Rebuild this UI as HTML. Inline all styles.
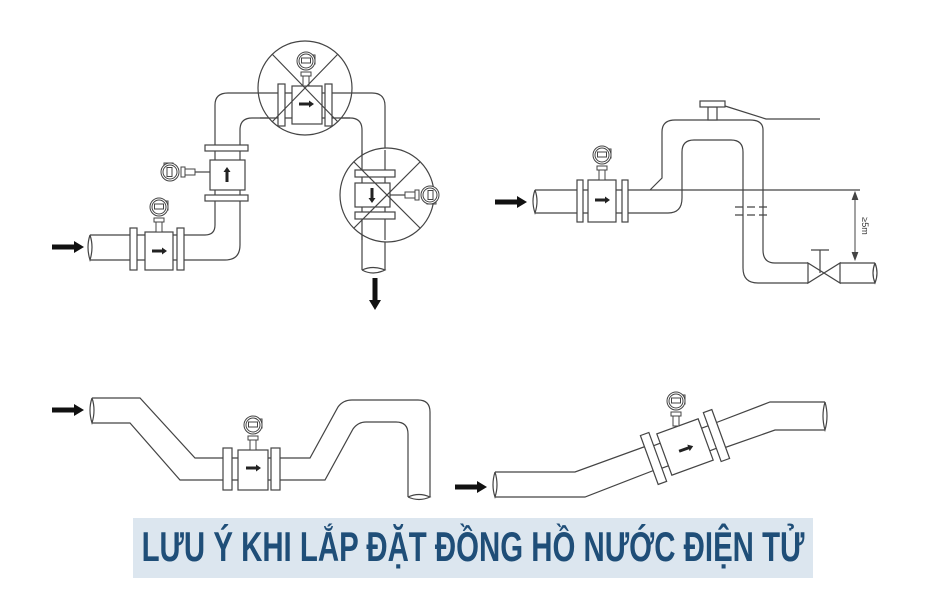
<!DOCTYPE html>
<html><head><meta charset="utf-8"><style>
html,body{margin:0;padding:0;background:#fff;width:950px;height:600px;overflow:hidden}
svg{position:absolute;left:0;top:0}
.t{position:absolute;left:133px;top:518px;width:680px;height:60px;background:#dce6ef;overflow:hidden}
.t span{position:absolute;left:340px;top:5px;display:inline-block;font-family:"Liberation Sans",sans-serif;font-weight:bold;font-size:42px;line-height:48px;color:#1f4e78;transform:translateX(-50%) scaleX(0.7);white-space:nowrap}
</style></head><body>
<svg width="950" height="600" viewBox="0 0 950 600">
<defs>
<g id="tx" fill="#fff" stroke="#444" stroke-width="1">
<rect x="-3" y="-10" width="6" height="10"/>
<rect x="-5" y="-14" width="10" height="4"/>
<rect x="4" y="-31" width="5" height="9"/>
<circle cx="0" cy="-25" r="9"/>
<circle cx="0" cy="-25" r="7"/>
<rect x="-4.5" y="-28" width="9" height="5"/>
</g>
<g id="arr"><path d="M0,-2.5 H22 V-6 L32,0 L22,6 V2.5 H0Z" fill="#111"/></g>
<g id="fa"><path d="M-7,-1.5 H3 V-3.5 L8,0 L3,3.5 V1.5 H-7Z" fill="#222"/></g>
</defs>
<g fill="none" stroke="#444" stroke-width="1.2">
<!-- Diagram 1 -->
<use href="#arr" x="52" y="247" stroke="none"/>
<path d="M90,235 H130 M90,260 H130 M184,235 H205 Q215,235 215,225 V200 M184,260 H225 Q240,260 240,245 V200"/>
<path d="M90,235 Q86,247 90,260 Q94,247 90,235"/>
<rect x="130" y="228" width="7" height="42" fill="#fff"/>
<rect x="177" y="228" width="7" height="42" fill="#fff"/>
<rect x="145" y="232" width="28" height="38" fill="#fff"/>
<path d="M137,235 H145 M137,260 H145 M173,235 H177 M173,260 H177"/>
<use href="#fa" x="159" y="251" stroke="none"/>
<use href="#tx" x="159" y="232"/>
<rect x="205" y="195" width="43" height="6" fill="#fff"/>
<rect x="205" y="145" width="43" height="6" fill="#fff"/>
<rect x="210" y="160" width="35" height="30" fill="#fff"/>
<path d="M215,151 V160 M240,151 V160 M215,190 V195 M240,190 V195"/>
<use href="#fa" transform="translate(227,175) rotate(-90)" stroke="none"/>
<path d="M195,172 H210"/>
<use href="#tx" transform="translate(195,172) rotate(-90)"/>
<path d="M215,145 V105 Q215,93 228,93 H372 Q385,93 385,106 V270 M240,145 V130 Q240,118 252,118 H350 Q362,118 362,130 V270"/>
<path d="M362,270 Q373,265 385,270 Q373,276 362,270"/>
<circle cx="305" cy="88" r="47" fill="#fff"/>
<path d="M258,93 H352 M260,118 H350"/>
<rect x="278" y="84" width="7" height="42" fill="#fff"/>
<rect x="325" y="84" width="7" height="42" fill="#fff"/>
<rect x="292" y="86" width="30" height="38" fill="#fff"/>
<use href="#fa" x="306" y="104" stroke="none"/>
<use href="#tx" x="306" y="86"/>
<path d="M272,54 L338,122 M338,54 L272,122"/>
<circle cx="387" cy="195" r="47" fill="#fff"/>
<path d="M362,150 V240 M385,150 V240"/>
<rect x="355" y="170" width="40" height="7" fill="#fff"/>
<rect x="355" y="212" width="40" height="7" fill="#fff"/>
<rect x="355" y="183" width="35" height="24" fill="#fff"/>
<use href="#fa" transform="translate(372,195) rotate(90)" stroke="none"/>
<path d="M390,195 H405"/>
<use href="#tx" transform="translate(405,195) rotate(90)"/>
<path d="M354,162 L420,228 M420,162 L354,228"/>
<use href="#arr" transform="translate(375,278) rotate(90)" stroke="none"/>
<!-- Diagram 2 -->
<use href="#arr" x="495" y="202" stroke="none"/>
<path d="M535,190 H577 M535,213 H577 M628,190 H860 M628,213 H668 Q682,213 682,198 V152 Q682,140 694,140 H731 Q743,140 743,152 V268 Q743,283 758,283 H808 M808,263 H775 Q763,263 763,250 V130 Q763,120 750,120 H675 Q662,120 662,132 V178 L650,190"/>
<path d="M808,263 L840,283 V263 L808,283 Z"/>
<path d="M535,190 Q531,201 535,213 Q539,201 535,190"/>
<rect x="577" y="180" width="6" height="42" fill="#fff"/>
<rect x="622" y="180" width="6" height="42" fill="#fff"/>
<rect x="588" y="180" width="28" height="42" fill="#fff"/>
<path d="M583,190 H588 M583,213 H588 M616,190 H622 M616,213 H622"/>
<use href="#fa" x="602" y="200" stroke="none"/>
<use href="#tx" x="602" y="180"/>
<rect x="708" y="107" width="9" height="13" fill="#fff"/>
<rect x="700" y="101" width="25" height="6" fill="#fff"/>
<path d="M725,106 L766,119 H820"/>
<path d="M735,207 H770 M735,215 H770" stroke-dasharray="8 4"/>
<path d="M820,250 V273 M811,250 H829"/>
<path d="M840,263 H875 M840,283 H875"/>
<path d="M875,263 Q871,273 875,283 Q879,273 875,263"/>
<path d="M855,193 V259" stroke-width="1"/>
<path d="M852,200 L855,192 L858,200 M852,252 L855,260 L858,252" fill="#444" stroke-width="0.8"/>
<!-- Diagram 3 -->
<use href="#arr" x="52" y="410" stroke="none"/>
<path d="M92,398 H140 L195,458 H223 M92,423 H130 L180,480 H223 M280,458 H310 L338,407 Q343,400 352,400 H418 Q430,400 430,412 V497 M280,480 H325 L353,429 Q358,422 366,422 H396 Q408,422 408,434 V497"/>
<path d="M92,398 Q88,410 92,423 Q96,410 92,398"/>
<path d="M408,497 Q419,492 430,497 Q419,502 408,497"/>
<rect x="223" y="448" width="9" height="42" fill="#fff"/>
<rect x="271" y="448" width="9" height="42" fill="#fff"/>
<rect x="238" y="450" width="30" height="40" fill="#fff"/>
<path d="M232,458 H238 M232,480 H238 M268,458 H271 M268,480 H271"/>
<use href="#fa" x="253" y="468" stroke="none"/>
<use href="#tx" x="253" y="450"/>
<!-- Diagram 4 -->
<use href="#arr" x="455" y="487" stroke="none"/>
<path d="M495,472 H575 L652,444 M495,497 H585 L660,468 M710,425 L770,402 H825 M718,450 L775,430 H825"/>
<path d="M495,472 Q491,485 495,497 Q499,485 495,472"/>
<path d="M825,402 Q821,416 825,430 Q829,416 825,402"/>
<g transform="translate(685,447) rotate(-20)">
<rect x="-38" y="-26" width="9" height="52" fill="#fff"/>
<rect x="29" y="-26" width="9" height="52" fill="#fff"/>
<rect x="-22" y="-22" width="44" height="44" fill="#fff"/>
<path d="M-29,-12 H-22 M-29,12 H-22 M22,-12 H29 M22,12 H29"/>
<use href="#fa" x="0" y="2" stroke="none"/>
</g>
<use href="#tx" x="676" y="426"/>
</g>
<text x="0" y="0" transform="translate(862,226) rotate(90)" font-family="Liberation Sans, sans-serif" font-size="9" fill="#333" text-anchor="middle">≥5m</text>
</svg>
<div class="t"><span>LƯU Ý KHI LẮP ĐẶT ĐỒNG HỒ NƯỚC ĐIỆN TỬ</span></div>
</body></html>
